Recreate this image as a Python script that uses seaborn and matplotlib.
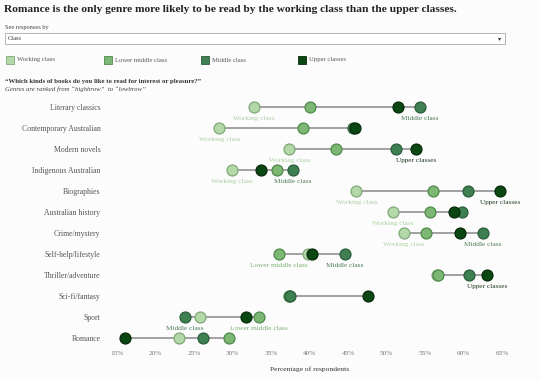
import matplotlib
matplotlib.use("Agg")
import matplotlib.pyplot as plt
import seaborn as sns
import pandas as pd
from matplotlib.patches import Rectangle

genres = ["Literary classics", "Contemporary Australian", "Modern novels",
          "Indigenous Australian", "Biographies", "Australian history",
          "Crime/mystery", "Self-help/lifestyle", "Thriller/adventure",
          "Sci-fi/fantasy", "Sport", "Romance"]
classes = ["Working class", "Lower middle class", "Middle class", "Upper classes"]

working      = [32.8, 28.3, 37.4, 29.9, 46.1, 50.8, 52.3, 39.8, 56.5, 37.3, 25.8, 23.1]
lower_middle = [40.0, 39.2, 43.5, 35.8, 56.1, 55.6, 55.1, 36.0, 56.7, 37.4, 33.4, 29.5]
middle       = [54.3, 45.7, 51.2, 37.8, 60.6, 59.8, 62.5, 44.6, 60.7, 37.5, 23.8, 26.2]
upper        = [51.5, 45.9, 53.8, 33.7, 64.8, 58.8, 59.6, 40.3, 63.1, 47.6, 31.8, 16.1]

# which classes get a text label on each row
row_labels = [["Working class", "Middle class"], ["Working class"],
              ["Working class", "Upper classes"], ["Working class", "Middle class"],
              ["Working class", "Upper classes"], ["Working class"],
              ["Working class", "Middle class"], ["Lower middle class", "Middle class"],
              ["Upper classes"], [], ["Middle class", "Lower middle class"], []]

xticks = [15, 20, 25, 30, 35, 40, 45, 50, 55, 60, 65]

colors = ["#b3d9a9", "#7db774", "#3f8053", "#0b4712"]
edge_colors = ["#7fa877", "#4f8a4a", "#2b5c3a", "#062a09"]
label_colors = ["#a9d0a0", "#7aaf70", "#4a7a55", "#1f3a22"]

values = {"Working class": working, "Lower middle class": lower_middle,
          "Middle class": middle, "Upper classes": upper}
rows = []
for c in classes:
    for g, v in zip(genres, values[c]):
        rows.append({"genre": g, "cls": c, "value": v})
df = pd.DataFrame(rows)

sns.set_theme(style="white")
plt.rcParams["font.family"] = ["Liberation Serif", "DejaVu Serif"]

W, H = 540, 381
fig = plt.figure(figsize=(W / 100, H / 100), dpi=100)
bg = "#fcfcfc"
fig.patch.set_facecolor(bg)

ax = fig.add_axes([117 / W, 1 - 348.5 / H, (502 - 117) / W, (348.5 - 96.5) / H])
ax.set_facecolor(bg)

ypos = {g: i for i, g in enumerate(genres)}
df["y"] = df["genre"].map(ypos)

rng = df.groupby("genre")["value"].agg(["min", "max"]).reindex(genres)
ax.hlines([ypos[g] for g in genres], rng["min"], rng["max"],
          color="#9a9a9a", lw=1.3, zorder=1)

for c, col, ec in zip(classes, colors, edge_colors):
    sub = df[df["cls"] == c]
    sns.scatterplot(data=sub, x="value", y="y", color=col, edgecolor=ec,
                    linewidth=0.9, s=62, ax=ax, zorder=3, clip_on=False,
                    legend=False)

for i, g in enumerate(genres):
    for lab in row_labels[i]:
        ci = classes.index(lab)
        v = values[lab][i]
        ax.annotate(lab, (v, i), xytext=(0, -6.5), textcoords="offset points",
                    ha="center", va="top", fontsize=5.2, color=label_colors[ci])

ax.set_xlim(15, 65)
ax.set_ylim(len(genres) - 0.5, -0.5)
ax.set_xticks(xticks)
ax.set_xticklabels([f"{t}%" for t in xticks])
ax.set_yticks(range(len(genres)))
ax.set_yticklabels(genres)
ax.tick_params(axis="y", length=0, pad=12, labelsize=5.6, labelcolor="#555555")
ax.tick_params(axis="x", length=0, pad=2, labelsize=5.2, labelcolor="#777777")
ax.set_xlabel("Percentage of respondents", fontsize=5.4, color="#333333", labelpad=7)
ax.set_ylabel("")
for sp in ax.spines.values():
    sp.set_visible(False)

# header
fig.text(4 / W, 1 - 9 / H, "Romance is the only genre more likely to be read by the working class than the upper classes.",
         fontsize=8.2, fontweight="bold", color="#222222", va="center", ha="left")
fig.text(5 / W, 1 - 28 / H, "See responses by", fontsize=4.6, color="#444444", va="center")
fig.patches.append(Rectangle((5 / W, 1 - 44 / H), (505 - 5) / W, 11 / H,
                             transform=fig.transFigure, facecolor="white",
                             edgecolor="#aaaaaa", lw=0.6))
fig.text(8 / W, 1 - 38.5 / H, "Class", fontsize=4.6, color="#333333", va="center")
fig.text(500 / W, 1 - 38.5 / H, "▾", fontsize=4.5, color="#333333", va="center",
         ha="center", family="DejaVu Sans")

leg_x = [6, 104, 201, 298]
for x, c, col, ec in zip(leg_x, classes, colors, edge_colors):
    fig.patches.append(Rectangle((x / W, 1 - 64 / H), 8 / W, 8 / H,
                                 transform=fig.transFigure, facecolor=col,
                                 edgecolor=ec, lw=0.6))
    fig.text((x + 11) / W, 1 - 60 / H, c, fontsize=4.8, color="#555555", va="center")

fig.text(5 / W, 1 - 81 / H, "\u201cWhich kinds of books do you like to read for interest or pleasure?\u201d",
         fontsize=4.9, fontweight="bold", color="#333333", va="center")
fig.text(5 / W, 1 - 89 / H, "Genres are ranked from \u201chighbrow\u201d  to \u201clowbrow\u201d",
         fontsize=4.9, style="italic", color="#444444", va="center")

fig.savefig("out.png", dpi=100, facecolor=bg)
